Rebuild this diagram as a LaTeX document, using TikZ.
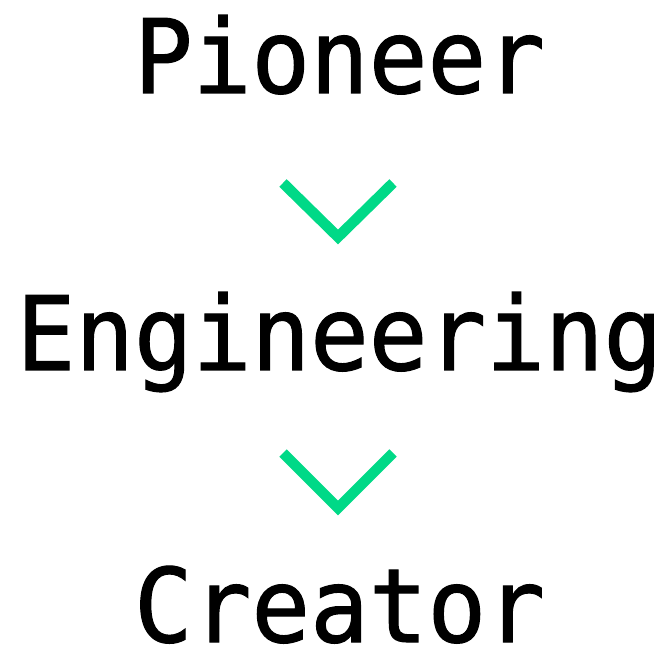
\documentclass[tikz,border=0pt]{standalone}
\usepackage{fontspec}
\newfontfamily\wordfont[FakeStretch=0.95,FakeBold=1.1]{DejaVu Sans Mono}
\usepackage{tikz}
\usetikzlibrary{calc}
\usepackage{xcolor}
\definecolor{chevgreen}{RGB}{0,217,135}
\tikzset{
  word/.style={anchor=base, inner sep=0pt, text depth=0pt, font=\wordfont\fontsize{29.2}{30}\selectfont, text=black},
  chev/.style={line width=3pt, chevgreen, line cap=butt, line join=miter},
}

\begin{document}
\begin{tikzpicture}
  \useasboundingbox (0,0) rectangle (6.68,6.53);
  % --- words ---
  \node[word] (pio) at (3.395,5.60) {Pioneer};
  \node[word] (eng) at (3.395,2.83) {Engineering};
  \node[word] (cre) at (3.395,0.11) {Creator};
  % --- chevrons ---
  \draw[chev] (2.83,4.70) -- (3.38,4.16) -- (3.93,4.70);
  \draw[chev] (2.83,2.00) -- (3.38,1.45) -- (3.93,2.00);
\end{tikzpicture}
\end{document}
